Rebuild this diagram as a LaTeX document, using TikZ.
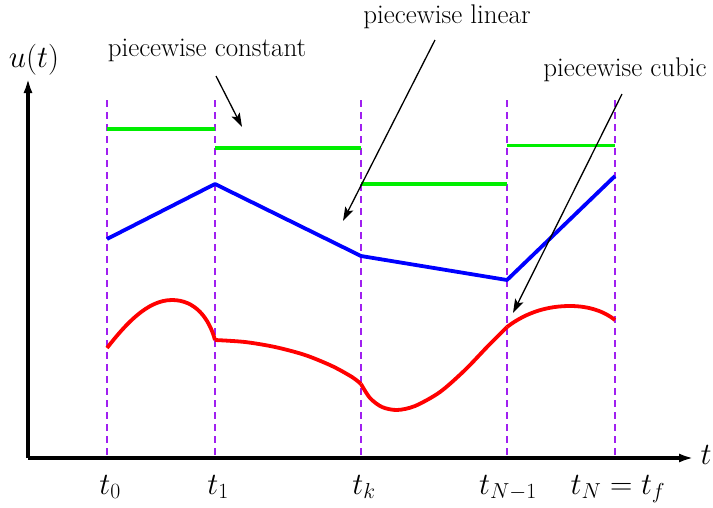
\RequirePackage{fix-cm}
\documentclass[tikz,border=0pt]{standalone}
\usetikzlibrary{arrows.meta}
\definecolor{vgreen}{RGB}{0,238,0}
\definecolor{vpurple}{RGB}{160,32,240}
\tikzset{
  axisline/.style={line width=3.8pt,-{Latex[length=15pt,width=9pt]}},
  gridline/.style={vpurple,line width=1.3pt,dash pattern=on 7pt off 5pt},
  constline/.style={vgreen,line width=3.8pt},
  linline/.style={blue,line width=3.8pt,line join=round},
  cubline/.style={red,line width=3.8pt,line join=round},
  callout/.style={line width=1.3pt,-{Stealth[length=14pt,width=9pt,inset=3pt]}},
  lbl/.style={font=\fontsize{27}{32}\selectfont,inner sep=0pt},
  mlbl/.style={font=\fontsize{31}{36}\selectfont,inner sep=0pt},
}
\begin{document}
\begin{tikzpicture}[x=1pt,y=-1pt]
\useasboundingbox (0,0) rectangle (713,507);
% axes
\coordinate (O) at (28,458);
\coordinate (Ytop) at (28,78);
\coordinate (Xend) at (694,458);
% grid lines
\foreach \n/\x in {0/107,1/215,k/361,m/507,N/615}{
  \coordinate (g\n top) at (\x,100);
  \coordinate (g\n bot) at (\x,458);
  \draw[gridline] (g\n top) -- (g\n bot);
}
\draw[axisline] (O) -- (Xend);
\draw[axisline] (O) -- (Ytop);
\node[mlbl] (ulab) at (34,60) {$u(t)$};
\node[mlbl] (tlab) at (706,455) {$t$};
% tick labels
\node[mlbl,anchor=base] (l0) at (110,494) {$t_0$};
\node[mlbl,anchor=base] (l1) at (218,494) {$t_1$};
\node[mlbl,anchor=base] (lk) at (364,494) {$t_k$};
\node[mlbl,anchor=base] (lm) at (508,494) {$t_{N-1}$};
\node[mlbl,anchor=base] (lN) at (618,494) {$t_N = t_f$};
% piecewise constant
\draw[constline] (107,129) -- (215,129);
\draw[constline] (215,148) -- (361,148);
\draw[constline] (361,184) -- (507,184);
\draw[constline] (507,145.5) -- (615,145.5);
% piecewise linear
\draw[linline] (107,239) -- (215,184) -- (361,256) -- (507,280) -- (615,176);
% piecewise cubic
\draw[cubline] (107,348) .. controls (125,325) and (147,300) .. (172,300)
  .. controls (195,300) and (209,318) .. (215,340);
\draw[cubline] plot[smooth,tension=0.5] coordinates {(215,340) (245,342) (275,347) (305,355) (332,366) (352,377) (361,384)};
\draw[cubline] plot[smooth,tension=0.5] coordinates {(361,384) (370,398) (382,407) (397,410) (415,406) (440,392) (465,370) (488,346) (507,327)};
\draw[cubline] (507,327) .. controls (528,311) and (550,306) .. (570,306)
  .. controls (590,306) and (605,312) .. (615,320);
% labels and callouts
\node[lbl] (pc) at (207,50) {piecewise constant};
\node[lbl] (pl) at (447,17) {piecewise linear};
\node[lbl] (pq) at (625,70) {piecewise cubic};
\coordinate (pcs) at (216,76);
\coordinate (pct) at (242,127);
\coordinate (pls) at (435,40);
\coordinate (plt) at (343,221);
\coordinate (pqs) at (622,94);
\coordinate (pqt) at (513,313);
\draw[callout] (pcs) -- (pct);
\draw[callout] (pls) -- (plt);
\draw[callout] (pqs) -- (pqt);
\end{tikzpicture}
\end{document}
